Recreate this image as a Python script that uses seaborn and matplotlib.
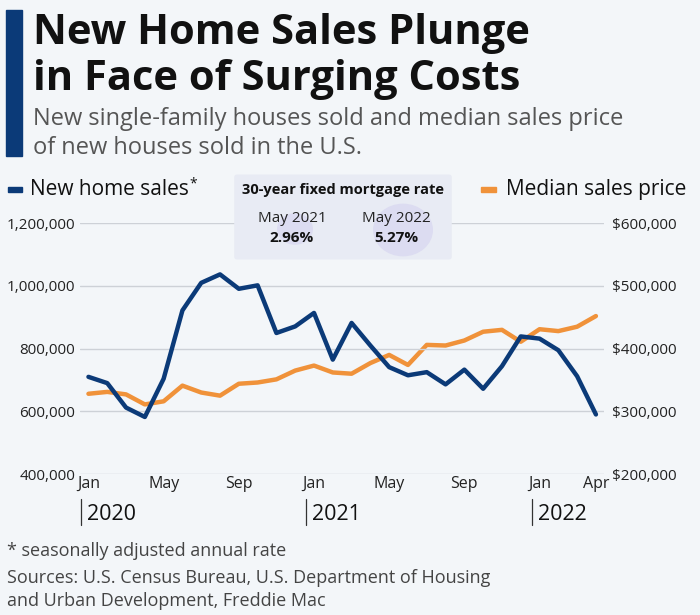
import numpy as np
import pandas as pd
import seaborn as sns
import matplotlib.pyplot as plt
from matplotlib.patches import FancyBboxPatch, Circle, Rectangle

# Data (Jan 2020 - Apr 2022)
months = pd.date_range('2020-01-01', '2022-04-01', freq='MS')
home_sales = [710000, 690000, 612000, 582000, 704000, 922000, 1010000, 1037000,
              991000, 1002000, 850000, 871000, 914000, 765000, 882000, 810000,
              741000, 715000, 725000, 686000, 733000, 672000, 744000, 839000,
              832000, 795000, 712000, 590000]
median_price = [328000, 331000, 327000, 311000, 316000, 341000, 330000, 325000,
                344000, 346000, 351000, 365000, 373000, 362000, 360000, 377000,
                390000, 374000, 406000, 405000, 413000, 427000, 430000, 411000,
                431000, 428000, 435000, 452000]
left_ticks = [400000, 600000, 800000, 1000000, 1200000]
right_ticks = [200000, 300000, 400000, 500000, 600000]
rate_labels = ['May 2021', 'May 2022']
rate_values = ['2.96%', '5.27%']

df = pd.DataFrame({'month': months, 'sales': home_sales, 'price': median_price})
df['idx'] = np.arange(len(df))

BG = '#f3f6f9'
BLUE = '#0b3a78'
ORANGE = '#f0923a'
GRID = '#cdd1d7'

sns.set_theme(style='white')
plt.rcParams['font.family'] = ['Open Sans', 'DejaVu Sans']

fig = plt.figure(figsize=(7, 6.15), dpi=100, facecolor=BG)
ax = fig.add_axes([80 / 700, 141 / 615, 524 / 700, 250.7 / 615])
ax.set_facecolor(BG)
ax2 = ax.twinx()

sns.lineplot(data=df, x='idx', y='sales', ax=ax, color=BLUE, lw=3.2, zorder=3)
sns.lineplot(data=df, x='idx', y='price', ax=ax2, color=ORANGE, lw=3.2, zorder=3)
ax.set_zorder(ax2.get_zorder() + 1)
ax.patch.set_visible(False)

ax.set_xlim(-0.45, len(df) - 1 + 0.43)
ax.set_ylim(400000, 1200000)
ax2.set_ylim(200000, 600000)

for a in (ax, ax2):
    for s in a.spines.values():
        s.set_visible(False)
    a.set_xlabel('')
    a.set_ylabel('')
    a.tick_params(length=0, colors='#222222', labelsize=11)

for v in left_ticks:
    ax.axhline(v, color=GRID, lw=1, zorder=1)

ax.set_yticks(left_ticks)
ax.set_yticklabels([f'{v:,}' for v in left_ticks])
ax.tick_params(axis='y', pad=3.6)
ax2.set_yticks(right_ticks)
ax2.set_yticklabels([f'${v:,}' for v in right_ticks])
ax2.tick_params(axis='y', pad=6)

# month ticks: Jan, May, Sep and the final month
tick_pos = [i for i, m in enumerate(df['month']) if m.month in (1, 5, 9)] + [len(df) - 1]
ax.set_xticks(tick_pos)
ax.set_xticklabels([df['month'][i].strftime('%b') for i in tick_pos])
ax.tick_params(axis='x', pad=1.5, labelsize=11.5)

# year labels with small separators
for i, m in enumerate(df['month']):
    if m.month == 1:
        ax.plot([i - 0.4, i - 0.4], [-0.1, -0.205], transform=ax.get_xaxis_transform(),
                color='#333333', lw=0.9, clip_on=False)
        ax.text(i - 0.1, -0.16, str(m.year), transform=ax.get_xaxis_transform(),
                fontsize=15.5, color='#111111', va='center', ha='left')

# title block
fig.add_artist(Rectangle((6 / 700, 1 - 156 / 615), 16 / 700, 146 / 615,
                         transform=fig.transFigure, color=BLUE))
fig.text(33 / 700, 1 - 34 / 615, 'New Home Sales Plunge', fontsize=30, fontweight='bold',
         color='#111111', va='center')
fig.text(33 / 700, 1 - 79 / 615, 'in Face of Surging Costs', fontsize=30, fontweight='bold',
         color='#111111', va='center')
fig.text(33 / 700, 1 - 119 / 615, 'New single-family houses sold and median sales price',
         fontsize=17, color='#555555', va='center')
fig.text(33 / 700, 1 - 148 / 615, 'of new houses sold in the U.S.',
         fontsize=17, color='#555555', va='center')

# legend entries
fig.add_artist(Rectangle((8 / 700, 1 - 192 / 615), 14 / 700, 5 / 615,
                         transform=fig.transFigure, color=BLUE))
t = fig.text(30 / 700, 1 - 189 / 615, 'New home sales', fontsize=15, color='#111111',
             va='center')
fig.canvas.draw()
bb = t.get_window_extent().transformed(fig.transFigure.inverted())
fig.text(bb.x1 + 1 / 700, 1 - 184 / 615, '*', fontsize=10, color='#111111', va='center')
fig.add_artist(Rectangle((481 / 700, 1 - 192 / 615), 15 / 700, 5 / 615,
                         transform=fig.transFigure, color=ORANGE))
fig.text(506 / 700, 1 - 189 / 615, 'Median sales price', fontsize=15, color='#111111',
         va='center')

# mortgage rate box
fig.add_artist(FancyBboxPatch((237 / 700, 1 - 257 / 615), 212 / 700, 80 / 615,
                              boxstyle='round,pad=0.004', transform=fig.transFigure,
                              facecolor='#e8ebf4', edgecolor='none', zorder=5))
fig.add_artist(Circle((295 / 700, 1 - 229 / 615), 18 / 700, transform=fig.transFigure,
                      facecolor='#dcdcf1', edgecolor='none', zorder=6))
fig.add_artist(Circle((403 / 700, 1 - 230 / 615), 30 / 700, transform=fig.transFigure,
                      facecolor='#dcdcf1', edgecolor='none', zorder=6))
fig.text(343 / 700, 1 - 190 / 615, '30-year fixed mortgage rate', fontsize=10.5,
         fontweight='bold', color='#111111', ha='center', va='center', zorder=7)
for x, lab, val in zip([292, 396], rate_labels, rate_values):
    fig.text(x / 700, 1 - 218 / 615, lab, fontsize=11, color='#222222',
             ha='center', va='center', zorder=7)
    fig.text(x / 700, 1 - 238 / 615, val, fontsize=11, fontweight='bold', color='#111111',
             ha='center', va='center', zorder=7)

# footnotes
fig.text(7 / 700, 1 - 551 / 615, '* seasonally adjusted annual rate', fontsize=13,
         color='#444444', va='center')
fig.text(7 / 700, 1 - 578 / 615, 'Sources: U.S. Census Bureau, U.S. Department of Housing',
         fontsize=13, color='#444444', va='center')
fig.text(7 / 700, 1 - 601 / 615, 'and Urban Development, Freddie Mac', fontsize=13,
         color='#444444', va='center')

fig.savefig('out.png', dpi=100, facecolor=BG)
